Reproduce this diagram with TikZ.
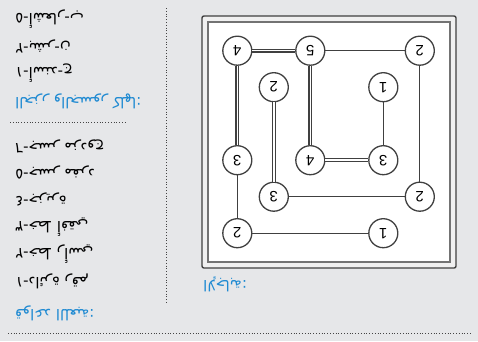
\documentclass[tikz,border=0pt]{standalone}
\usepackage{fontspec}
\setmainfont{Liberation Sans}
\newfontfamily\arabicfont[Script=Arabic]{DejaVu Sans}
\TeXXeTstate=1
\definecolor{bg}{HTML}{E6E7E9}
\definecolor{blu}{HTML}{1F8AD2}
\definecolor{edgec}{HTML}{404040}
\definecolor{dotc}{HTML}{444444}
\begin{document}
\begin{tikzpicture}[x=1pt,y=-1pt,
  txt/.style={rotate=180,anchor=east,inner sep=0pt,text=black,font=\arabicfont\fontsize{15}{17}\selectfont},
  head/.style={txt,text=blu},
  isl/.style={circle,draw=edgec,fill=white,line width=1.3pt,minimum size=29pt,inner sep=0pt,rotate=180,font=\fontsize{15}{15}\selectfont},
  one/.style={draw=edgec,line width=1.3pt},
  two/.style={draw=edgec,double=white,double distance=1.5pt,line width=1.1pt},
  outerbox/.style={draw=black!75,fill=black!6,line width=1.4pt,rounded corners=2pt},
  innerbox/.style={draw=black!55,fill=white,line width=1.6pt},
  sep/.style={draw=dotc,line width=0.8pt,dash pattern=on 0.8pt off 2pt}]
\path[use as bounding box,fill=bg] (0,0) rectangle (478,341);
% separators
\coordinate (v1) at (166,8);
\coordinate (v2) at (166,304);
\coordinate (h1) at (10,122);
\coordinate (h2) at (125,122);
\coordinate (b1) at (8,333);
\coordinate (b2) at (472,333);
\draw[sep] (v1) -- (v2);
\draw[sep] (h1) -- (h2);
\draw[sep] (b1) -- (b2);
% left texts
\node[txt] (a1) at (15,19) {\beginR ٥-أشعار-ب\endR};
\node[txt] (a2) at (15,46) {\beginR ٢-بشر-ن\endR};
\node[txt] (a3) at (15,73) {\beginR ١-أسند-ج\endR};
\node[head] (hb) at (15,101) {\beginR الجزر والجسور كلها:\endR};
\node[txt] (c1) at (15,146) {\beginR ٦-جسر مزدوج\endR};
\node[txt] (c2) at (15,172) {\beginR ٥-جسر مفرد\endR};
\node[txt] (c3) at (15,199) {\beginR ٤-جزيرة\endR};
\node[txt] (c4) at (15,227) {\beginR ٣-خط أفقي\endR};
\node[txt] (c5) at (15,254) {\beginR ٢-خط رأسي\endR};
\node[txt] (c6) at (15,281) {\beginR ١-دائرة رقم\endR};
\node[head] (hd) at (15,313) {\beginR قواعد اللعبة:\endR};
% frame
\path[outerbox] (202,16) rectangle (456,268);
\path[innerbox] (208,22) rectangle (450,262);
\node[head] (cap) at (203,284) {\beginR الإجابة:\endR};
% islands
\node[isl] (n1) at (237.3,50.7) {4};
\node[isl] (n2) at (310.3,50.7) {5};
\node[isl] (n3) at (419.8,50.7) {2};
\node[isl] (n4) at (273.8,87.2) {2};
\node[isl] (n5) at (383.3,87.2) {1};
\node[isl] (n6) at (237.3,160.2) {3};
\node[isl] (n7) at (310.3,160.2) {4};
\node[isl] (n8) at (383.3,160.2) {3};
\node[isl] (n9) at (273.8,196.7) {3};
\node[isl] (n10) at (419.8,196.7) {2};
\node[isl] (n11) at (237.3,233.2) {2};
\node[isl] (n12) at (383.3,233.2) {1};
% bridges
\draw[two] (n1) -- (n2);
\draw[one] (n2) -- (n3);
\draw[two] (n1) -- (n6);
\draw[two] (n4) -- (n9);
\draw[two] (n2) -- (n7);
\draw[one] (n5) -- (n8);
\draw[two] (n7) -- (n8);
\draw[one] (n3) -- (n10);
\draw[one] (n9) -- (n10);
\draw[one] (n6) -- (n11);
\draw[one] (n11) -- (n12);
\end{tikzpicture}
\end{document}
